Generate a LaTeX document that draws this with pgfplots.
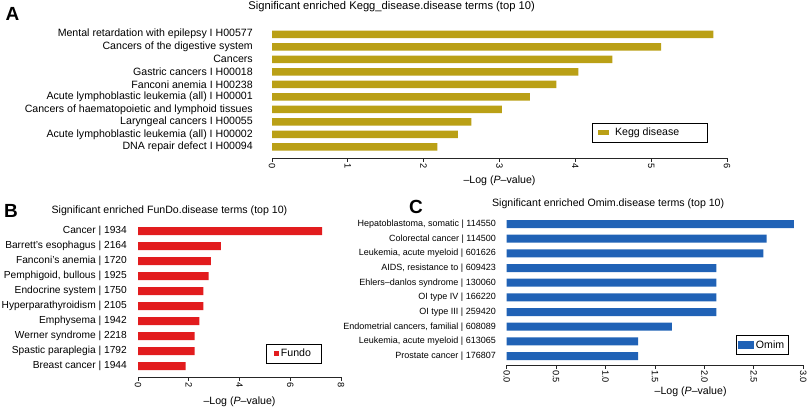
\documentclass[border=0pt]{standalone}
\usepackage{pgfplots}
\pgfplotsset{compat=1.18}
\usepackage{fontspec}
\setmainfont{Liberation Sans}
\definecolor{kegg}{RGB}{186,160,22}
\definecolor{fundo}{RGB}{226,28,30}
\definecolor{omim}{RGB}{32,98,182}
\newcommand\fl{\fontsize{10.6}{11}\selectfont}
\pgfplotsset{
  panel/.style={
    scale only axis,
    anchor=south west,
    xbar,
    axis x line*=bottom,
    axis y line*=left,
    y axis line style={draw=none},
    ytick style={draw=none},
    ytick={0,...,9},
    ymax=9.5,
    xmin=0,
    x axis line style={line width=0.9pt, black!85},
    xtick style={line width=0.9pt, black!85},
    tick align=outside,
    major tick length=4pt,
    /pgf/number format/assume math mode=true,
    xticklabel style={rotate=-90, anchor=west, font=\fontsize{9.2}{10}\selectfont, inner sep=1pt},
    yticklabel style={inner sep=0pt},
    clip=false,
    legend image code/.code={\fill[##1] (0pt,-2.5pt) rectangle (11pt,2.5pt);},
  },
  fundoleg/.style={legend image code/.code={\fill[##1] (3pt,-2.5pt) rectangle (8pt,2.5pt);}},
  omimleg/.style={legend image code/.code={\fill[##1] (-2pt,-4pt) rectangle (14pt,4pt);}},
}
\begin{document}
\begin{tikzpicture}
\path[use as bounding box] (0,0) rectangle (810pt,409pt);
% ---------------- Panel A
\begin{axis}[panel,
  at={(272pt,251pt)}, width=455pt, height=130pt,
  xmax=6, xtick={0,1,2,3,4,5,6},
  ymin=-0.88,
  bar width=7.5pt,
  yticklabel shift=15pt,
  yticklabel style={font=\fl},
  yticklabels={DNA repair defect I H00094,
    Acute lymphoblastic leukemia (all) I H00002,
    Laryngeal cancers I H00055,
    Cancers of haematopoietic and lymphoid tissues,
    Acute lymphoblastic leukemia (all) I H00001,
    Fanconi anemia I H00238,
    Gastric cancers I H00018,
    Cancers,
    Cancers of the digestive system,
    Mental retardation with epilepsy I H00577},
  title={Significant enriched Kegg\_disease.disease terms (top 10)},
  title style={at={(axis description cs:0.263,1)}, anchor=center, yshift=15pt, font=\fontsize{11.2}{12}\selectfont},
  xlabel={--Log (\textit{P}--value)},
  xlabel style={at={(axis description cs:0.5,0)}, anchor=center, yshift=-23pt, font=\fl},
  legend style={at={(axis description cs:0.83,0.196)}, anchor=center, draw=black, line width=0.8pt,
    font=\fl, inner xsep=6pt, inner ysep=3pt},
]
\addplot[fill=kegg, draw=none] coordinates {
 (2.18,0) (2.45,1) (2.63,2) (3.03,3) (3.40,4) (3.75,5) (4.04,6) (4.49,7) (5.13,8) (5.82,9)};
\addlegendentry{\hspace*{4pt}Kegg disease\hspace*{20pt}}
\end{axis}
% ---------------- Panel B
\begin{axis}[panel, fundoleg,
  at={(138pt,32pt)}, width=203pt, height=153.5pt,
  xmax=8, xtick={0,2,4,6,8},
  ymin=-0.73,
  bar width=8pt,
  yticklabel shift=7pt,
  yticklabel style={font=\fontsize{10.2}{11}\selectfont},
  yticklabels={Breast cancer | 1944,
    Spastic paraplegia | 1792,
    Werner syndrome | 2218,
    Emphysema | 1942,
    Hyperparathyroidism | 2105,
    Endocrine system | 1750,
    {Pemphigoid, bullous | 1925},
    Fanconi's anemia | 1720,
    Barrett's esophagus | 2164,
    Cancer | 1934},
  title={Significant enriched FunDo.disease terms (top 10)},
  title style={at={(axis description cs:0.155,1)}, anchor=center, yshift=7pt, font=\fl},
  xlabel={--Log (\textit{P}--value)},
  xlabel style={at={(axis description cs:0.5,0)}, anchor=center, yshift=-25pt, font=\fl},
  legend style={at={(axis description cs:0.766,0.153)}, anchor=center, draw=black, line width=0.8pt,
    font=\fl, inner xsep=8pt, inner ysep=3pt},
]
\addplot[fill=fundo, draw=none] coordinates {
 (1.88,0) (2.23,1) (2.23,2) (2.42,3) (2.58,4) (2.58,5) (2.78,6) (2.87,7) (3.27,8) (7.26,9)};
\addlegendentry{Fundo}
\end{axis}
% ---------------- Panel C
\begin{axis}[panel, omimleg,
  at={(506.7pt,44pt)}, width=296.6pt, height=148.3pt,
  xmax=3, xtick={0,0.5,1,1.5,2,2.5,3},
  xticklabel style={/pgf/number format/fixed, /pgf/number format/fixed zerofill, /pgf/number format/precision=1},
  ymin=-0.61,
  bar width=8pt,
  yticklabel shift=6.7pt,
  yticklabel style={font=\fontsize{9}{10}\selectfont},
  yticklabels={Prostate cancer | 176807,
    {Leukemia, acute myeloid | 613065},
    {Endometrial cancers, familial | 608089},
    OI type III | 259420,
    OI type IV | 166220,
    Ehlers--danlos syndrome | 130060,
    {AIDS, resistance to | 609423},
    {Leukemia, acute myeloid | 601626},
    Colorectal cancer | 114500,
    {Hepatoblastoma, somatic | 114550}},
  title={Significant enriched Omim.disease terms (top 10)},
  title style={at={(axis description cs:0.342,1)}, anchor=center, yshift=6.7pt, font=\fl},
  xlabel={--Log (\textit{P}--value)},
  xlabel style={at={(axis description cs:0.62,0)}, anchor=center, yshift=-26.5pt, font=\fl},
  legend style={at={(axis description cs:0.861,0.135)}, anchor=center, draw=black, line width=0.8pt,
    font=\fl, inner xsep=2pt, inner ysep=3pt},
]
\addplot[fill=omim, draw=none] coordinates {
 (1.33,0) (1.33,1) (1.67,2) (2.12,3) (2.12,4) (2.12,5) (2.12,6) (2.595,7) (2.63,8) (2.905,9)};
\addlegendentry{Omim}
\end{axis}
% panel letters
\node[font=\fontsize{19}{19}\selectfont\bfseries] at (12.5pt,395.5pt) {A};
\node[font=\fontsize{19}{19}\selectfont\bfseries] at (11pt,198pt) {B};
\node[font=\fontsize{19}{19}\selectfont\bfseries] at (416pt,202pt) {C};
\end{tikzpicture}
\end{document}
